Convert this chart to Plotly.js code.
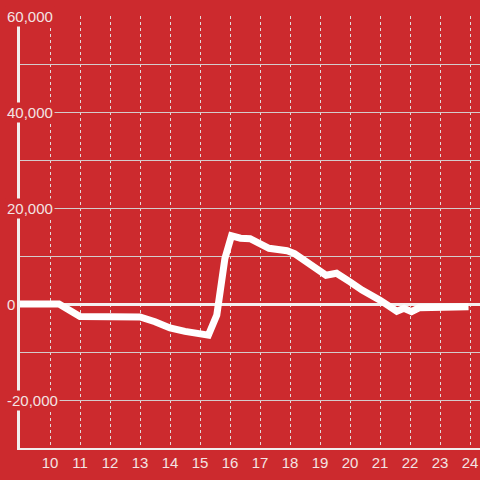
<!DOCTYPE html>
<html>
<head>
<meta charset="utf-8">
<script src="https://cdn.plot.ly/plotly-3.0.1.min.js"></script>
<style>html,body{margin:0;padding:0;background:#cc2a2e;}#chart{width:480px;height:480px;}</style>
</head>
<body>
<div id="chart"></div>
<script>
// Data
const hours = [9, 10.3, 11, 13, 13.5, 14, 14.5, 15, 15.28, 15.56, 15.67, 15.83, 16.05, 16.35, 16.67, 17.3, 17.9, 18.15, 19.2, 19.55, 20.0, 20.4, 21.0, 21.56, 21.8, 22.05, 22.3, 23.95];
const values = [0, 0, -2600, -2700, -3700, -5000, -5700, -6400, -6500, -2300, 2600, 9500, 14200, 13700, 13600, 11600, 11100, 10500, 6000, 6400, 4600, 2900, 800, -1500, -900, -1600, -800, -550];
const xTickVals = [10, 11, 12, 13, 14, 15, 16, 17, 18, 19, 20, 21, 22, 23, 24];
const yTickVals = [60000, 40000, 20000, 0, -20000];
const yTickText = ['60,000', '40,000', '20,000', '0', '-20,000'];

const bg = '#cc2a2e';
const textColor = '#f3e3e3';
const font = 'Liberation Sans, Arial, sans-serif';

const trace = {
  x: hours, y: values, type: 'scatter', mode: 'lines',
  line: {color: '#ffffff', width: 7},
  hoverinfo: 'skip'
};

const annotations = yTickVals.map((v, i) => ({
  xref: 'paper', yref: 'y', x: -0.033, y: v,
  xanchor: 'left', yanchor: 'middle',
  text: yTickText[i], showarrow: false,
  bgcolor: bg, borderpad: 1,
  font: {family: font, size: 15, color: textColor}
}));

const layout = {
  width: 480, height: 480,
  margin: {l: 20, r: 0, t: 16, b: 32},
  paper_bgcolor: bg, plot_bgcolor: bg,
  showlegend: false,
  xaxis: {
    range: [9, 24.333],
    tickvals: xTickVals,
    ticktext: xTickVals.map(String),
    showgrid: true, gridcolor: '#e2dada', gridwidth: 1, griddash: 'dot',
    showline: true, linecolor: '#f2eeee', linewidth: 2,
    ticks: '', zeroline: false,
    tickfont: {family: font, size: 15, color: textColor},
    fixedrange: true
  },
  yaxis: {
    range: [-30000, 60000],
    dtick: 10000, tick0: 0,
    showgrid: true, gridcolor: '#d4cccc', gridwidth: 1,
    showline: true, linecolor: '#f2eeee', linewidth: 3,
    zeroline: true, zerolinecolor: '#f4f0f0', zerolinewidth: 3,
    showticklabels: false, ticks: '',
    fixedrange: true
  },
  annotations: annotations
};

Plotly.newPlot('chart', [trace], layout, {displayModeBar: false, staticPlot: true});
</script>
</body>
</html>
